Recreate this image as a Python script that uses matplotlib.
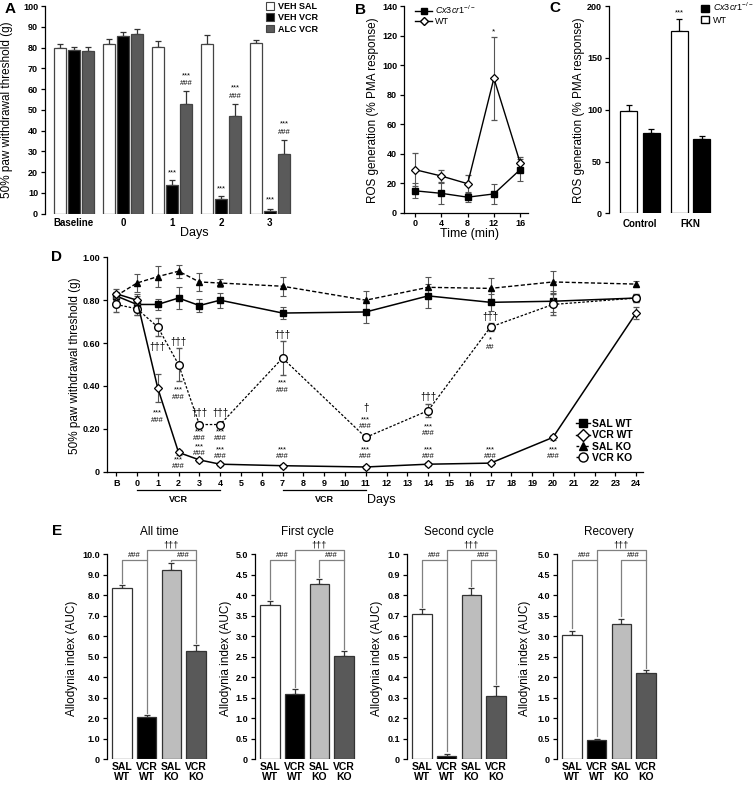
import numpy as np
import matplotlib.pyplot as plt
import matplotlib.transforms as mtrans
from matplotlib.patches import Patch
from matplotlib.lines import Line2D

plt.rcParams['font.family'] = ['Liberation Sans', 'DejaVu Sans']
plt.rcParams['mathtext.fontset'] = 'custom'
plt.rcParams['mathtext.rm'] = 'Liberation Sans'
plt.rcParams['mathtext.it'] = 'Liberation Sans:italic'

# ---- panel A: paw withdrawal threshold, ALC experiment ----
a_groups = ['Baseline', '0', '1', '2', '3']
a_veh_sal = [79.8, 81.5, 80.5, 81.5, 82.0]
a_veh_sal_err = [2.0, 2.5, 2.5, 4.5, 1.5]
a_veh_vcr = [79.0, 85.5, 14.0, 7.0, 1.5]
a_veh_vcr_err = [1.5, 2.0, 2.0, 1.5, 1.0]
a_alc_vcr = [78.5, 86.5, 52.8, 47.0, 28.8]
a_alc_vcr_err = [2.0, 2.5, 6.5, 6.0, 6.8]
a_labels = ['VEH SAL', 'VEH VCR', 'ALC VCR']
# (group, bar, y, text)
a_annot = [(2, 1, 19.5, '***'), (2, 2, 66.5, '***'), (2, 2, 62.5, '###'),
           (3, 1, 12.0, '***'), (3, 2, 60.5, '***'), (3, 2, 56.5, '###'),
           (4, 1, 6.5, '***'), (4, 2, 43.0, '***'), (4, 2, 39.0, '###')]

# ---- panel B: ROS time course ----
b_time = [0, 4, 8, 12, 16]
b_ko = [15.0, 13.3, 10.7, 12.9, 29.3]
b_ko_err = [5.0, 7.0, 3.3, 7.0, 7.5]
b_wt = [29.3, 25.0, 19.8, 91.1, 34.0]
b_wt_err = [11.0, 4.3, 6.0, 28.0, 4.0]

# ---- panel C: ROS by stimulus ----
c_groups = ['Control', 'FKN']
c_wt = [98.4, 175.7]
c_wt_err = [6.0, 11.5]
c_ko = [77.5, 71.7]
c_ko_err = [4.0, 3.0]

# ---- panel D: time course ----
d_days = [-1, 0, 1, 2, 3, 4, 7, 11, 14, 17, 20, 24]
d_tick_labels = ['B'] + [str(i) for i in range(25)]
d_sal_wt = [0.82, 0.78, 0.78, 0.81, 0.775, 0.80, 0.74, 0.745, 0.82, 0.79, 0.795, 0.81]
d_sal_wt_err = [0.02, 0.05, 0.025, 0.05, 0.03, 0.035, 0.03, 0.05, 0.055, 0.04, 0.05, 0.02]
d_vcr_wt = [0.83, 0.80, 0.39, 0.09, 0.055, 0.035, 0.028, 0.022, 0.035, 0.04, 0.16, 0.74]
d_vcr_wt_err = [0.02, 0.02, 0.065, 0.01, 0.01, 0.01, 0.01, 0.008, 0.01, 0.01, 0.01, 0.03]
d_sal_ko = [0.82, 0.88, 0.91, 0.935, 0.885, 0.88, 0.865, 0.80, 0.86, 0.855, 0.885, 0.875]
d_sal_ko_err = [0.02, 0.04, 0.05, 0.03, 0.04, 0.02, 0.045, 0.045, 0.05, 0.05, 0.05, 0.015]
d_vcr_ko = [0.78, 0.76, 0.675, 0.50, 0.22, 0.22, 0.53, 0.16, 0.285, 0.675, 0.78, 0.81]
d_vcr_ko_err = [0.035, 0.03, 0.04, 0.075, 0.01, 0.01, 0.08, 0.01, 0.03, 0.02, 0.05, 0.02]
d_annot = [
    (1, 0.583, '†††'), (1, 0.274, '***'), (1, 0.240, '###'),
    (2, 0.606, '†††'), (2, 0.381, '***'), (2, 0.347, '###'), (2, 0.055, '***'), (2, 0.023, '###'),
    (3, 0.272, '†††'), (3, 0.187, '***'), (3, 0.156, '###'), (3, 0.117, '***'), (3, 0.086, '###'),
    (4, 0.272, '†††'), (4, 0.187, '***'), (4, 0.156, '###'), (4, 0.101, '***'), (4, 0.070, '###'),
    (7, 0.638, '†††'), (7, 0.412, '***'), (7, 0.381, '###'), (7, 0.101, '***'), (7, 0.070, '###'),
    (11, 0.296, '†'), (11, 0.241, '***'), (11, 0.210, '###'), (11, 0.101, '***'), (11, 0.070, '###'),
    (14, 0.350, '†††'), (14, 0.210, '***'), (14, 0.179, '###'), (14, 0.101, '***'), (14, 0.070, '###'),
    (17, 0.723, '†††'), (17, 0.614, '*'), (17, 0.580, '##'), (17, 0.101, '***'), (17, 0.070, '###'),
    (20, 0.101, '***'), (20, 0.070, '###'),
]
d_vcr_periods = [(0, 4), (7, 11)]

# ---- panel E: allodynia index ----
e_titles = ['All time', 'First cycle', 'Second cycle', 'Recovery']
e_groups = ['SAL\nWT', 'VCR\nWT', 'SAL\nKO', 'VCR\nKO']
e_vals = [[8.33, 2.05, 9.22, 5.29],
          [3.77, 1.60, 4.27, 2.51],
          [0.708, 0.016, 0.80, 0.31],
          [3.03, 0.47, 3.29, 2.09]]
e_errs = [[0.15, 0.10, 0.32, 0.27],
          [0.08, 0.10, 0.12, 0.12],
          [0.022, 0.012, 0.033, 0.045],
          [0.10, 0.03, 0.13, 0.08]]
e_ymax = [10.0, 5.0, 1.0, 5.0]
e_ystep = [1.0, 0.5, 0.1, 0.5]

W, H = 755, 785


def fx(px):
    return px / W


def fy(py):
    return 1 - py / H


def box(l, t, r, b):
    return [fx(l), fy(b), (r - l) / W, (b - t) / H]


TICK = 6.5
LAB = 8.5


def style(ax, bottom=True):
    for s in ['top', 'right']:
        ax.spines[s].set_visible(False)
    ax.spines['bottom'].set_visible(bottom)
    for s in ['left', 'bottom']:
        ax.spines[s].set_linewidth(0.9)
    ax.tick_params(direction='out', length=3, width=0.9, labelsize=TICK, pad=2)
    for t in ax.get_xticklabels() + ax.get_yticklabels():
        t.set_fontweight('bold')


fig = plt.figure(figsize=(7.55, 7.85), dpi=100)

# ================= A =================
axA = fig.add_axes(box(45, 6, 292, 213.7))
xg = np.arange(len(a_groups))
off, bw = 0.286, 0.245
a_series = [(a_veh_sal, a_veh_sal_err, 'white'),
            (a_veh_vcr, a_veh_vcr_err, 'black'),
            (a_alc_vcr, a_alc_vcr_err, '#5a5a5a')]
for k, (vals, errs, col) in enumerate(a_series):
    pos = xg + (k - 1) * off
    axA.bar(pos, vals, bw, color=col, edgecolor='#444444', linewidth=0.9, zorder=2)
    axA.errorbar(pos, vals, yerr=[np.zeros(len(vals)), errs], fmt='none',
                 ecolor='#333333', elinewidth=0.9, capsize=2.2, capthick=0.9, zorder=1)
for g, b, y, t in a_annot:
    axA.text(g + (b - 1) * off, y, t, ha='center', va='center', fontsize=5.5)
axA.set_xlim(-0.59, 4.45)
axA.set_ylim(0, 100)
axA.set_yticks(np.arange(0, 101, 10))
axA.set_xticks(xg)
axA.set_xticklabels(a_groups)
style(axA, bottom=False)
axA.tick_params(axis='x', length=0, pad=3, labelsize=7)
for t in axA.get_xticklabels():
    t.set_fontweight('bold')
fig.text(fx(7), fy(110), '50% paw withdrawal threshold (g)', rotation=90,
         ha='center', va='center', fontsize=LAB)
fig.text(fx(194), fy(233), 'Days', ha='center', va='center', fontsize=LAB + 0.5)
axA.legend(handles=[Patch(facecolor=c, edgecolor='#444444', lw=0.8) for _, _, c in a_series],
           labels=a_labels, loc='upper left', bbox_to_anchor=(fx(266), fy(2)),
           bbox_transform=fig.transFigure, frameon=False, handlelength=0.9,
           handleheight=0.9, handletextpad=0.4, labelspacing=0.25, borderpad=0,
           borderaxespad=0, prop={'size': 6.5, 'weight': 'bold'})

# ================= B =================
axB = fig.add_axes(box(404, 6, 528, 213))
axB.errorbar(b_time, b_wt, yerr=b_wt_err, color='black', lw=1, marker='D', ms=4.5,
             mfc='white', mec='black', mew=0.9, ecolor='#555555', elinewidth=0.8,
             capsize=2.2, capthick=0.8, zorder=3)
axB.errorbar(b_time, b_ko, yerr=b_ko_err, color='black', lw=1, marker='s', ms=4.5,
             ecolor='#555555', elinewidth=0.8, capsize=2.2, capthick=0.8, zorder=3)
axB.text(12, 122.5, '*', ha='center', va='center', fontsize=6)
axB.set_xlim(-1.7, 17.2)
axB.set_ylim(0, 140)
axB.set_xticks(b_time)
axB.set_yticks(np.arange(0, 141, 20))
style(axB)
axB.tick_params(axis='x', pad=1)
fig.text(fx(373), fy(110), 'ROS generation (% PMA response)', rotation=90,
         ha='center', va='center', fontsize=LAB)
fig.text(fx(470), fy(234), 'Time (min)', ha='center', va='center', fontsize=LAB + 0.5)
axB.legend(handles=[Line2D([], [], color='black', lw=1, marker='s', ms=4.5),
                    Line2D([], [], color='black', lw=1, marker='D', ms=4.5, mfc='white')],
           labels=[r'$\mathit{Cx3cr1}^{-/-}$', 'WT'], loc='upper left',
           bbox_to_anchor=(fx(415), fy(4)), bbox_transform=fig.transFigure,
           frameon=False, handlelength=1.9, handletextpad=0.3, labelspacing=0.1,
           borderpad=0, borderaxespad=0, prop={'size': 6.5})

# ================= C =================
axC = fig.add_axes(box(609, 6, 720, 213.4))
xc = np.arange(len(c_groups))
for vals, errs, col, sh in [(c_wt, c_wt_err, 'white', -0.222), (c_ko, c_ko_err, 'black', 0.222)]:
    axC.bar(xc + sh, vals, 0.337, color=col, edgecolor='black', linewidth=0.9, zorder=2)
    axC.errorbar(xc + sh, vals, yerr=[np.zeros(len(vals)), errs], fmt='none',
                 ecolor='black', elinewidth=0.9, capsize=2.2, capthick=0.9, zorder=1)
axC.text(1 - 0.222, 193, '***', ha='center', va='center', fontsize=5.5)
axC.set_xlim(-0.61, 1.58)
axC.set_ylim(0, 200)
axC.set_yticks([0, 50, 100, 150, 200])
axC.set_xticks(xc)
axC.set_xticklabels(c_groups)
style(axC, bottom=False)
axC.tick_params(axis='x', length=0, pad=4, labelsize=7)
for t in axC.get_xticklabels():
    t.set_fontweight('bold')
fig.text(fx(579), fy(110), 'ROS generation (% PMA response)', rotation=90,
         ha='center', va='center', fontsize=LAB)
axC.legend(handles=[Patch(facecolor='black', edgecolor='black'),
                    Patch(facecolor='white', edgecolor='black')],
           labels=[r'$\mathit{Cx3cr1}^{-/-}$', 'WT'], loc='upper left',
           bbox_to_anchor=(fx(701), fy(1)), bbox_transform=fig.transFigure,
           frameon=False, handlelength=0.9, handleheight=0.9, handletextpad=0.4,
           labelspacing=0.25, borderpad=0, borderaxespad=0, prop={'size': 6.5})

# ================= D =================
axD = fig.add_axes(box(107, 257.3, 643, 471.7))
ekw = dict(ecolor='#555555', elinewidth=0.8, capsize=2.5, capthick=0.8)
axD.errorbar(d_days, d_sal_ko, yerr=d_sal_ko_err, color='black', lw=1,
             ls=(0, (3, 1.6)), marker='^', ms=4.5, zorder=3, **ekw)
axD.errorbar(d_days, d_sal_wt, yerr=d_sal_wt_err, color='black', lw=1.1,
             marker='s', ms=5, zorder=3, **ekw)
axD.errorbar(d_days, d_vcr_ko, yerr=d_vcr_ko_err, color='black', lw=0.9,
             ls=(0, (2, 1.4)), marker='o', ms=5.5, mfc='white', mec='black', mew=1,
             zorder=4, **ekw)
axD.errorbar(d_days, d_vcr_wt, yerr=d_vcr_wt_err, color='black', lw=1.1,
             marker='D', ms=4.5, mfc='white', mec='black', mew=0.9, zorder=4, **ekw)
for x, y, t in d_annot:
    if '†' in t:
        axD.text(x, y, t, ha='center', va='center', fontsize=7)
    else:
        axD.text(x, y, t, ha='center', va='center', fontsize=5.5)
axD.set_xlim(-1.44, 24.33)
axD.set_ylim(0, 1.0)
axD.set_xticks(range(-1, 25))
axD.set_xticklabels(d_tick_labels)
axD.set_yticks([0, 0.2, 0.4, 0.6, 0.8, 1.0])
axD.set_yticklabels(['0', '0.20', '0.40', '0.60', '0.80', '1.00'])
style(axD)
trD = mtrans.blended_transform_factory(axD.transData, axD.transAxes)
for s, e in d_vcr_periods:
    axD.plot([s, e], [-0.085, -0.085], color='black', lw=0.9, transform=trD, clip_on=False)
    axD.text((s + e) / 2, -0.128, 'VCR', transform=trD, ha='center', va='center',
             fontsize=TICK, fontweight='bold')
fig.text(fx(381), fy(500), 'Days', ha='center', va='center', fontsize=LAB + 0.5)
fig.text(fx(75), fy(366), '50% paw withdrawal threshold (g)', rotation=90,
         ha='center', va='center', fontsize=LAB)
axD.legend(handles=[Line2D([], [], color='black', lw=1, marker='s', ms=6),
                    Line2D([], [], color='black', lw=1, marker='D', ms=6, mfc='white'),
                    Line2D([], [], color='black', lw=1, ls=(0, (2, 1.4)), marker='^', ms=6),
                    Line2D([], [], color='black', lw=1, ls=(0, (2, 1.4)), marker='o', ms=6.5,
                           mfc='white')],
           labels=['SAL WT', 'VCR WT', 'SAL KO', 'VCR KO'], loc='upper left',
           bbox_to_anchor=(fx(576), fy(419)), bbox_transform=fig.transFigure,
           frameon=False, handlelength=1.3, handletextpad=0.2, labelspacing=0.12,
           borderpad=0, borderaxespad=0, prop={'size': 7.5, 'weight': 'bold'})

# ================= E =================
e_lefts = [107, 255, 407, 557]
e_ylab_x = [72, 226, 377, 525]
e_colors = ['white', 'black', '#bdbdbd', '#595959']
low, high = 0.971, 1.019
for i in range(4):
    ax = fig.add_axes(box(e_lefts[i], 554, e_lefts[i] + 104, 759.3))
    xe = np.arange(4)
    vals, errs = e_vals[i], e_errs[i]
    ax.bar(xe, vals, 0.79, color=e_colors, edgecolor='#333333', linewidth=0.9, zorder=2)
    ax.errorbar(xe, vals, yerr=[np.zeros(4), errs], fmt='none', ecolor='#333333',
                elinewidth=0.9, capsize=2.2, capthick=0.9, zorder=1)
    ax.set_xlim(-0.6, 3.6)
    ax.set_ylim(0, e_ymax[i])
    ticks = np.round(np.arange(0, e_ymax[i] + e_ystep[i] / 2, e_ystep[i]), 3)
    ax.set_yticks(ticks)
    ax.set_yticklabels(['0' if t == 0 else '{:.1f}'.format(t) for t in ticks])
    ax.set_xticks(xe)
    ax.set_xticklabels(e_groups, linespacing=1.05)
    style(ax, bottom=False)
    ax.tick_params(axis='x', length=0, pad=2, labelsize=7.5)
    for t in ax.get_xticklabels():
        t.set_fontweight('bold')
    ax.set_title(e_titles[i], fontsize=LAB, pad=14)
    fig.text(fx(e_ylab_x[i]), fy(658), 'Allodynia index (AUC)', rotation=90,
             ha='center', va='center', fontsize=LAB)
    tr = mtrans.blended_transform_factory(ax.transData, ax.transAxes)
    tops = [(v + e) / e_ymax[i] + 0.012 for v, e in zip(vals, errs)]
    bk = dict(color='#808080', lw=0.9, transform=tr, clip_on=False)
    ax.plot([0, 0, 1, 1], [tops[0], low, low, tops[1]], **bk)
    ax.plot([2, 2, 3, 3], [tops[2], low, low, tops[3]], **bk)
    ax.plot([1, 1, 3, 3], [low, high, high, low], **bk)
    ax.text(0.5, low + 0.004, '###', transform=tr, ha='center', va='bottom', fontsize=5.5)
    ax.text(2.5, low + 0.004, '###', transform=tr, ha='center', va='bottom', fontsize=5.5)
    ax.text(2, high + 0.004, '†††', transform=tr, ha='center', va='bottom', fontsize=6.5)

# panel letters
for lab, x, y in [('A', 10, 9), ('B', 360, 10), ('C', 555, 8), ('D', 57, 257), ('E', 57, 531)]:
    fig.text(fx(x), fy(y), lab, ha='center', va='center', fontsize=11, fontweight='bold')

fig.savefig('out.png', dpi=100)
